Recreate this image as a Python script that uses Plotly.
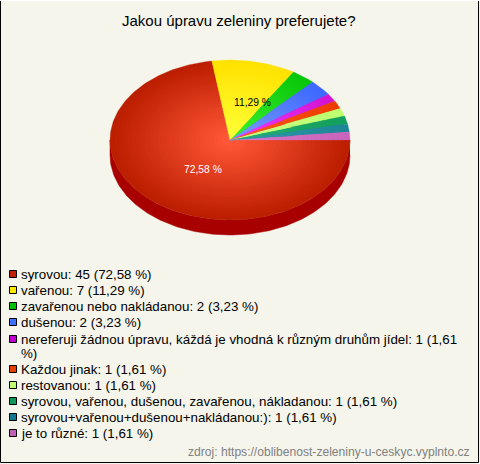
import numpy as np
import plotly.graph_objects as go

TITLE = "Jakou úpravu zeleniny preferujete?"
SOURCE = "zdroj: https://oblibenost-zeleniny-u-ceskyc.vyplnto.cz"
categories = ["syrovou", "vařenou", "zavařenou nebo nakládanou", "dušenou",
              "nereferuji žádnou úpravu, káždá je vhodná k různým druhům jídel",
              "Každou jinak", "restovanou",
              "syrovou, vařenou, dušenou, zavařenou, nákladanou",
              "syrovou+vařenou+dušenou+nakládanou:)", "je to různé"]
values = [45, 7, 2, 2, 1, 1, 1, 1, 1, 1]
percent_labels = ["72,58 %", "11,29 %", "3,23 %", "3,23 %", "1,61 %",
                  "1,61 %", "1,61 %", "1,61 %", "1,61 %", "1,61 %"]
edge_colors = [(188, 30, 0), (255, 226, 0), (8, 198, 8), (62, 104, 255), (208, 20, 210),
               (238, 60, 0), (188, 255, 110), (18, 158, 92), (28, 134, 150), (200, 100, 186)]
core_colors = [(255, 88, 56), (255, 255, 56), (60, 240, 50), (120, 155, 255), (240, 60, 255),
               (255, 92, 30), (205, 255, 135), (40, 175, 115), (50, 155, 170), (215, 120, 200)]
swatch_colors = ["#c02000", "#ffe800", "#00c000", "#4070ff", "#c000d0",
                 "#e84000", "#c0ff70", "#109858", "#107890", "#c060b8"]

BG = "#f5f5ec"
CX, CY, RX, RY, DEPTH = 230, 140, 120, 80, 15
RINGS = 28

fractions = np.array(values) / sum(values)
ends = np.cumsum(fractions) * 360
starts = ends - fractions * 360


def warp(deg):
    return np.interp(deg, [0, 6, 35, 60, 360], [0, 3.8, 34, 60, 360])


def wedge(a0, a1, scale):
    t = np.radians(warp(np.linspace(a0, a1, max(3, int(a1 - a0) + 2))))
    x = CX + RX * scale * np.cos(t)
    y = CY + RY * scale * np.sin(t)
    return np.r_[CX, x, CX], np.r_[CY, y, CY]


fig = go.Figure()

# side wall
t = np.radians(np.linspace(0, 180, 181))
fig.add_trace(go.Scatter(
    x=np.r_[CX + RX * np.cos(t), (CX + RX * np.cos(t))[::-1]],
    y=np.r_[CY + RY * np.sin(t), (CY + RY * np.sin(t) + DEPTH)[::-1]],
    fill="toself", fillcolor="#a80000", mode="lines", line=dict(width=0.5, color="#a80000"),
    hoverinfo="skip", showlegend=False))

# clockwise from east; concentric layers give the radial shading
for i in range(RINGS):
    s = 1 - i / RINGS
    for a0, a1, e, c in zip(starts, ends, edge_colors, core_colors):
        f = i / (RINGS - 1)
        col = "rgb(%d,%d,%d)" % tuple(round(e[k] + (c[k] - e[k]) * f) for k in range(3))
        x, y = wedge(a0, a1, s)
        fig.add_trace(go.Scatter(x=x, y=y, fill="toself", fillcolor=col, mode="lines",
                                 line=dict(width=0.3, color=col), hoverinfo="skip",
                                 showlegend=False))

annotations = [
    dict(x=238.5, y=20, text=TITLE, font=dict(size=15, color="#000000"), xanchor="center"),
    dict(x=470.5, y=452, text=SOURCE, font=dict(size=12.1, color="#808080"), xanchor="right"),
]
# percent labels of the two large slices
for idx, colr in [(0, "#ffffff"), (1, "#000000")]:
    mid = np.radians(warp((starts[idx] + ends[idx]) / 2))
    r = 0.48
    annotations.append(dict(x=CX + RX * r * np.cos(mid) + 11, y=CY + RY * r * np.sin(mid),
                            text=percent_labels[idx], font=dict(size=10.3, color=colr),
                            xanchor="center"))

LEG = 13.35
rows = [274, 290, 306, 322, 339, 369, 385, 401, 417, 433]
for i, name in enumerate(categories):
    txt = f"{name}: {values[i]} ({percent_labels[i]})"
    if i == 4:
        head, tail = txt.rsplit(" ", 1)
        annotations.append(dict(x=20, y=rows[i], text=head, font=dict(size=LEG, color="#000000"),
                                xanchor="left"))
        annotations.append(dict(x=20, y=rows[i] + 14.5, text=tail, font=dict(size=LEG, color="#000000"),
                                xanchor="left"))
    else:
        annotations.append(dict(x=20, y=rows[i], text=txt, font=dict(size=LEG, color="#000000"),
                                xanchor="left"))

fig.add_trace(go.Scatter(x=[13] * len(rows), y=rows, mode="markers", hoverinfo="skip",
                         showlegend=False,
                         marker=dict(symbol="square", size=7, color=swatch_colors,
                                     line=dict(color="#000000", width=1))))

for a in annotations:
    a.update(xref="x", yref="y", showarrow=False, yanchor="middle", borderpad=0)

fig.update_layout(
    width=480, height=464, margin=dict(l=0, r=0, t=0, b=0),
    paper_bgcolor=BG, plot_bgcolor=BG, showlegend=False,
    font=dict(family="Liberation Sans"),
    xaxis=dict(range=[0, 480], visible=False, fixedrange=True),
    yaxis=dict(range=[464, 0], visible=False, fixedrange=True),
    annotations=annotations,
    shapes=[dict(type="rect", xref="x", yref="y", x0=0.5, y0=0.5, x1=478.5, y1=462.5,
                 line=dict(color="#000000", width=1), layer="above"),
            dict(type="line", xref="x", yref="y", x0=0, y0=0.5, x1=480, y1=0.5,
                 line=dict(color="#ffffff", width=1), layer="above")],
)
fig.write_html("out.html", config=dict(displayModeBar=False),
               post_script="document.body.style.margin='0';")
